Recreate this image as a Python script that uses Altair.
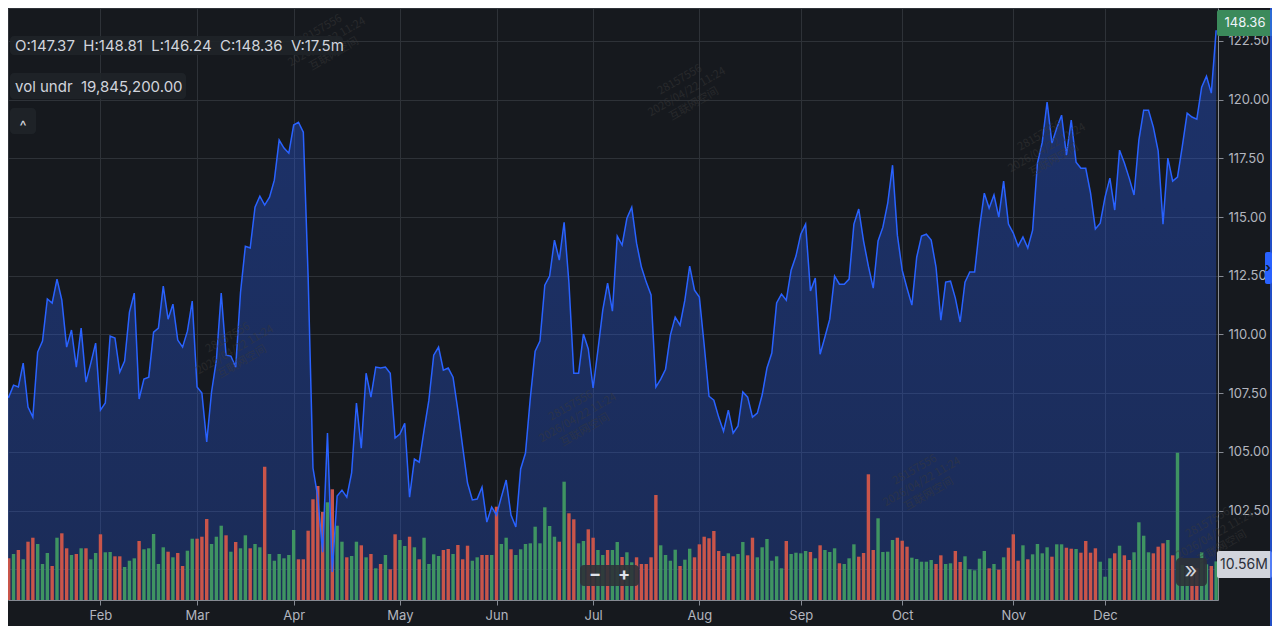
import altair as alt
import pandas as pd

# ---------------- data ----------------
price = [
    107.42, 107.33, 107.84, 107.76, 108.78, 106.91, 106.48, 109.25, 109.72, 111.51,
    111.34, 112.36, 111.46, 109.46, 110.19, 108.61, 110.27, 107.97, 108.78, 109.63,
    106.78, 107.08, 109.93, 109.85, 108.40, 108.87, 110.95, 111.76, 107.25, 108.10,
    108.18, 110.10, 110.27, 112.06, 110.65, 111.29, 109.76, 109.46, 110.14, 111.42,
    107.76, 107.50, 105.42, 107.55, 108.91, 111.76, 109.12, 109.08, 108.61, 111.80,
    113.76, 113.68, 115.42, 115.89, 115.51, 115.85, 116.57, 118.28, 117.94, 117.72,
    118.92, 119.04, 118.62, 112.44, 104.31, 103.07, 100.73, 105.80, 99.88, 103.12,
    103.37, 103.07, 104.10, 107.08, 105.16, 108.35, 107.33, 108.61, 108.57, 108.61,
    108.35, 105.59, 105.76, 106.22, 103.07, 104.69, 104.56, 105.93, 107.20, 109.12,
    109.46, 108.48, 108.57, 108.18, 106.78, 105.20, 103.67, 102.95, 102.99, 103.50,
    102.01, 102.65, 102.31, 103.07, 103.80, 102.31, 101.80, 104.27, 104.95, 107.29,
    109.29, 109.72, 112.10, 112.49, 114.02, 113.17, 114.78, 112.19, 108.35, 108.35,
    110.02, 109.38, 107.72, 109.33, 111.04, 112.19, 110.99, 114.19, 113.81, 114.95,
    115.42, 113.89, 112.87, 112.23, 111.68, 107.76, 108.10, 108.52, 109.97, 110.74,
    110.40, 111.46, 112.91, 111.89, 111.59, 109.55, 107.37, 107.20, 106.48, 105.88,
    106.78, 105.80, 106.10, 107.55, 107.33, 106.48, 106.65, 107.42, 108.57, 109.21,
    111.34, 111.72, 111.46, 112.74, 113.34, 114.27, 114.70, 111.85, 112.40, 109.16,
    109.89, 110.65, 112.49, 112.14, 112.14, 112.36, 114.70, 115.34, 113.98, 112.91,
    111.97, 113.98, 114.57, 115.59, 117.21, 114.23, 112.74, 111.97, 111.25, 113.29,
    114.19, 114.27, 114.02, 112.87, 110.61, 112.23, 112.27, 111.55, 110.53, 112.23,
    112.66, 112.66, 114.53, 116.02, 115.38, 115.94, 115.00, 116.53, 114.70, 114.32,
    113.76, 114.15, 113.68, 114.44, 117.30, 118.19, 119.90, 118.15, 118.79, 119.34,
    117.64, 119.13, 117.34, 117.08, 117.08, 116.02, 114.49, 114.74, 115.85, 116.66,
    115.30, 117.85, 117.30, 116.66, 115.94, 118.28, 119.55, 119.55, 118.83, 117.81,
    114.70, 117.51, 116.53, 116.70, 118.02, 119.43, 119.26, 119.17, 120.53, 121.00,
    120.28, 122.96,
]

volume_m = [
    14.00,
    12.96, 14.30, 15.54, 12.65, 18.12, 19.36, 17.40, 11.19, 14.61, 10.57,
    19.36, 20.73, 16.07, 13.99, 14.30, 16.07, 16.07, 12.65, 14.61, 20.42,
    14.83, 14.92, 13.58, 13.58, 10.26, 12.21, 12.96, 18.34, 15.76, 16.07,
    20.51, 11.19, 16.38, 15.01, 13.27, 14.61, 10.57, 15.32, 19.05, 19.05,
    19.67, 25.17, 17.40, 19.67, 23.09, 20.11, 15.01, 18.03, 16.07, 20.11,
    16.07, 17.40, 16.38, 41.43, 14.30, 12.21, 14.30, 12.96, 13.99, 21.76,
    12.65, 12.65, 21.54, 31.30, 35.43, 27.35, 30.37, 34.41, 23.09, 18.12,
    13.27, 13.68, 18.12, 17.00, 13.27, 14.30, 9.85, 11.19, 13.99, 9.54,
    20.42, 18.65, 16.78, 19.67, 16.38, 12.65, 19.36, 11.19, 14.20, 13.68,
    15.54, 15.85, 14.30, 17.09, 12.65, 16.88, 12.21, 13.27, 13.99, 13.99,
    13.99, 29.00, 17.40, 19.36, 15.76, 13.99, 15.76, 17.40, 17.62, 22.78,
    17.62, 28.81, 23.00, 19.67, 18.12, 36.77, 26.95, 25.08, 17.62, 18.34,
    21.97, 19.36, 15.54, 13.99, 15.54, 15.54, 18.03, 13.36, 14.83, 11.72,
    13.27, 11.19, 11.19, 13.27, 32.63, 17.00, 13.99, 12.21, 15.63, 10.57,
    12.53, 15.94, 13.27, 17.31, 19.67, 19.18, 21.45, 15.23, 13.68, 14.51,
    13.58, 14.30, 18.03, 13.89, 19.36, 13.27, 16.38, 18.96, 12.21, 13.58,
    9.85, 18.34, 14.30, 14.70, 14.51, 15.23, 14.92, 12.96, 17.00, 15.54,
    14.92, 16.07, 11.41, 11.19, 12.96, 17.31, 13.46, 14.61, 39.07, 15.54,
    25.39, 14.92, 15.01, 18.65, 19.36, 18.43, 16.57, 13.15, 12.74, 11.90,
    11.90, 12.43, 11.19, 13.89, 11.19, 11.41, 15.23, 11.81, 13.58, 9.54,
    9.23, 12.84, 15.23, 9.85, 11.19, 9.42, 13.27, 16.25, 20.42, 12.21,
    17.00, 12.65, 14.20, 17.40, 14.51, 16.38, 13.46, 17.31, 17.31, 16.25,
    15.94, 15.85, 14.70, 18.34, 14.70, 16.07, 11.90, 7.24, 12.96, 14.51,
    16.88, 13.89, 12.43, 14.83, 24.15, 19.98, 14.83, 14.51, 16.57, 17.62,
    18.65, 13.89, 45.78, 10.88, 9.32, 8.70, 9.95, 14.83, 11.10, 10.56,
    12.00,
]

# G = up volume bar, R = down volume bar
direction = list(
    "R"
    "RGRGRRGGGR" "GRRGRGRGGR" "GGRRGGGRGG" "GGGRGRRGGR" "RRGGGRGRGG"
    "RGGRGGGGGG" "RRRRRRGRGG" "RGGRGRGRGR" "RGGRGRGGGG" "RRGRRRGGRR"
    "GRGGRGGGGG" "GGGGRGRRGG" "RRGGRGGRGG" "RRRRRGGGGR" "GGRRRRRRRG"
    "RGGRRGGGGG" "GRGGGGRGRG" "GGRGGGRRRR" "GGGGRRRGGG" "GGRRGGRRGG"
    "GGGRGRGRRR" "GRGGGGRGGR" "RGRRRRGGGR" "GRRGGGGRRR" "GRGGGRRGGR"
    "G"
)

month_ticks = [20, 40, 60, 82, 102, 122, 144, 165, 186, 209, 228]
month_labels = ["Feb", "Mar", "Apr", "May", "Jun", "Jul", "Aug", "Sep", "Oct", "Nov", "Dec"]
price_ticks = [100.0, 102.5, 105.0, 107.5, 110.0, 112.5, 115.0, 117.5, 120.0, 122.5]

df = pd.DataFrame({
    "day": list(range(len(price))),
    "price": price,
    "volume": volume_m,
    "dir": direction,
})

# ---------------- style ----------------
BG = "#16191e"
GRID = "#2e3238"
AXIS_TXT = "#b2b5be"
LINE = "#2962ff"
GREEN = "#3f9462"
RED = "#c9554a"
FONT = "Inter"
W, H = 1210, 592
NB = "\u00a0"

label_expr = " : ".join(
    f"datum.value == {v} ? '{m}'" for v, m in zip(month_ticks, month_labels)
) + " : ''"

x_enc = alt.X(
    "day:Q",
    scale=alt.Scale(domain=[1.89, 250.35], nice=False, zero=False),
    axis=alt.Axis(
        values=month_ticks, labelExpr=label_expr, title=None, grid=True,
        gridColor=GRID, domainColor="#868a93", tickColor="#868a93", tickSize=5,
        labelColor=AXIS_TXT, labelFont=FONT, labelFontSize=13, labelPadding=4,
        labelFlush=False, labelOverlap=False,
    ),
)
price_scale = alt.Scale(domain=[98.69, 123.905], nice=False, zero=False)

base = alt.Chart(df)

area = base.mark_area(
    clip=True,
    color=alt.Gradient(
        gradient="linear",
        stops=[
            alt.GradientStop(color="rgba(41,98,255,0.34)", offset=0),
            alt.GradientStop(color="rgba(41,98,255,0.21)", offset=0.3),
            alt.GradientStop(color="rgba(41,98,255,0.06)", offset=1),
        ],
        x1=1, x2=1, y1=0, y2=1,
    ),
).encode(
    x=x_enc,
    y=alt.Y(
        "price:Q", scale=price_scale,
        axis=alt.Axis(
            orient="right", values=price_ticks, title=None, grid=True,
            labelExpr="datum.value == 100 ? '' : format(datum.value, '.2f')",
            gridColor=GRID, domainColor="#868a93", tickColor="#868a93", tickSize=5,
            labelColor=AXIS_TXT, labelFont=FONT, labelFontSize=13, labelPadding=5,
            labelFlush=False, labelOverlap=False,
        ),
    ),
)

bars = base.mark_bar(clip=True, size=3.4).encode(
    x=x_enc,
    y=alt.Y("volume:Q", scale=alt.Scale(domain=[0, 184], nice=False), axis=None),
    color=alt.Color("dir:N", scale=alt.Scale(domain=["G", "R"], range=[GREEN, RED]), legend=None),
)

line = base.mark_line(clip=True, color=LINE, strokeWidth=1.5).encode(
    x=x_enc,
    y=alt.Y("price:Q", scale=price_scale, axis=None),
)

one = alt.Data(values=[{}])


def box(x, x2, y, y2, fill, r=4, opacity=1.0):
    return alt.Chart(one).mark_rect(fill=fill, cornerRadius=r, opacity=opacity).encode(
        x=alt.value(x), x2=alt.value(x2), y=alt.value(y), y2=alt.value(y2)
    )


def txt(x, y, text, color, size=14, align="left", font=FONT, weight="normal",
        angle=0, opacity=1.0, baseline="middle"):
    return alt.Chart(one).mark_text(
        text=text, color=color, fontSize=size, align=align, baseline=baseline,
        font=font, fontWeight=weight, angle=angle, opacity=opacity, lineHeight=14,
    ).encode(x=alt.value(x), y=alt.value(y))


wm_text = ["28157556", "2026/04/22 11:24", "互联网空间"]
wm_pos = [(312, 22), (672, 72), (1032, 128), (220, 330), (563, 398), (907, 462), (1200, 515)]
watermarks = [
    txt(x, y, wm_text, "#3a3a3a", size=11, align="center", font="Noto Sans CJK SC",
        angle=330, opacity=0.5)
    for x, y in wm_pos
]

ohlc = NB.join(["O:147.37", "", "H:148.81", "", "L:146.24", "", "C:148.36", "", "V:17.5m"])

overlays = [
    # OHLC legend
    box(2, 335, 28, 47, "#1f2328", r=4, opacity=0.9),
    txt(7, 38, ohlc, "#d1d4dc", size=15),
    # indicator legend
    box(2, 178, 65, 91, "#1f2328", r=4, opacity=0.9),
    txt(7, 79, "vol" + NB + "undr" + NB + NB + "19,845,200.00", "#d1d4dc", size=15),
    # collapse button
    box(2, 28, 100, 126, "#1f2328", r=4, opacity=0.9),
    txt(15, 118, "^", "#d1d4dc", size=15, align="center"),
    # last price label
    box(1209, 1265, 2, 28, "#3b8a5b", r=2),
    txt(1237, 15, "148.36", "#f0f3fa", size=13, align="center"),
    # last volume label
    box(1209, 1264, 543, 570, "#d1d4dc", r=2),
    txt(1236, 557, "10.56M", "#2a2e39", size=14, align="center"),
    # zoom buttons
    box(572, 631, 557, 578, "#2e3238", r=4, opacity=0.9),
    txt(587, 567, "−", "#e0e3eb", size=18, align="center", weight="bold"),
    txt(616, 567, "+", "#e0e3eb", size=18, align="center", weight="bold"),
    # scroll to real time button
    box(1168, 1199, 550, 578, "#2e3238", r=4, opacity=0.9),
    txt(1183, 563, "»", "#d1d4dc", size=22, align="center"),
    # right edge handle and line
    alt.Chart(one).mark_rule(color=LINE, strokeWidth=1.5).encode(
        x=alt.value(1263), y=alt.value(-8), y2=alt.value(618)
    ),
    box(1257, 1264, 244, 276, LINE, r=2),
    txt(1260, 260, "›", "#131722", size=13, align="center", weight="bold"),
]

chart = alt.layer(area, bars, line, *watermarks, *overlays).resolve_scale(
    y="independent"
).properties(
    width=W, height=H,
    autosize=alt.AutoSizeParams(type="none"),
    padding={"left": 0, "top": 0, "right": 54, "bottom": 26},
    background=BG,
).configure_view(stroke=GRID, strokeWidth=1)

chart.save("out.html", embed_options={"renderer": "svg", "actions": False})
